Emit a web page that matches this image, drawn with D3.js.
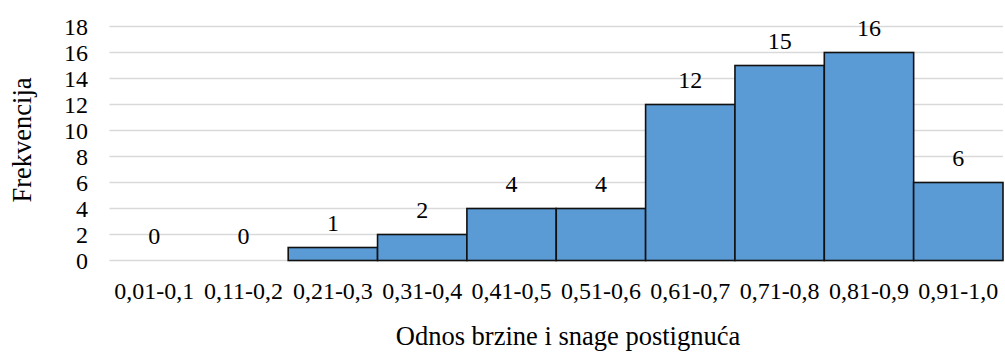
<!DOCTYPE html>
<html>
<head>
<meta charset="utf-8">
<script src="https://d3js.org/d3.v7.min.js"></script>
<style>
  body { margin: 0; background: #fff; }
  svg text { font-family: "Liberation Serif", serif; font-size: 24px; fill: #000; }
  svg text.title { font-size: 26.5px; }
</style>
</head>
<body>
<div id="chart"></div>
<script>
// histogram data
const categories = ["0,01-0,1", "0,11-0,2", "0,21-0,3", "0,31-0,4", "0,41-0,5",
                    "0,51-0,6", "0,61-0,7", "0,71-0,8", "0,81-0,9", "0,91-1,0"];
const values = [0, 0, 1, 2, 4, 4, 12, 15, 16, 6];
const yTicks = [0, 2, 4, 6, 8, 10, 12, 14, 16, 18];

const width = 1005, height = 352;
const svg = d3.select("#chart").append("svg")
    .attr("width", width)
    .attr("height", height);

const x = d3.scaleBand()
    .domain(categories)
    .range([109.5, 1003])
    .padding(0);

const y = d3.scaleLinear()
    .domain([0, 18])
    .range([260.5, 26.5]);

const rows = categories.map((c, i) => ({ cat: c, val: values[i] }));

// gridlines
svg.append("g")
    .selectAll("line")
    .data(yTicks)
    .join("line")
    .attr("x1", 109.5).attr("x2", 1003)
    .attr("y1", d => y(d)).attr("y2", d => y(d))
    .attr("stroke", "#d9d9d9")
    .attr("stroke-width", 1.5);

// y axis labels
const yAxis = d3.axisLeft(y).tickValues(yTicks).tickSize(0).tickPadding(0);
svg.append("g")
    .attr("transform", "translate(88,0)")
    .call(yAxis)
    .call(g => g.select(".domain").remove())
    .selectAll("text").attr("dy", "0.35em");

// bars
svg.append("g")
    .selectAll("rect")
    .data(rows.filter(d => d.val > 0))
    .join("rect")
    .attr("x", d => x(d.cat))
    .attr("width", x.bandwidth())
    .attr("y", d => y(d.val))
    .attr("height", d => y(0) - y(d.val))
    .attr("fill", "#5b9bd5")
    .attr("stroke", "#111")
    .attr("stroke-width", 1.6);

// x axis labels
const xAxis = d3.axisBottom(x).tickSize(0).tickPadding(0);
svg.append("g")
    .attr("transform", "translate(0,299)")
    .call(xAxis)
    .call(g => g.select(".domain").remove())
    .selectAll("text").attr("dy", 0);

// data labels
svg.append("g")
    .selectAll("text")
    .data(rows)
    .join("text")
    .attr("x", d => x(d.cat) + x.bandwidth() / 2)
    .attr("y", d => y(d.val) - 16.5)
    .attr("text-anchor", "middle")
    .text(d => d.val);

// axis titles
svg.append("text")
    .attr("class", "title")
    .attr("x", 568)
    .attr("y", 345)
    .attr("text-anchor", "middle")
    .text("Odnos brzine i snage postignuća");

svg.append("text")
    .attr("class", "title")
    .attr("transform", "translate(31,140) rotate(-90)")
    .attr("text-anchor", "middle")
    .text("Frekvencija");
</script>
</body>
</html>
